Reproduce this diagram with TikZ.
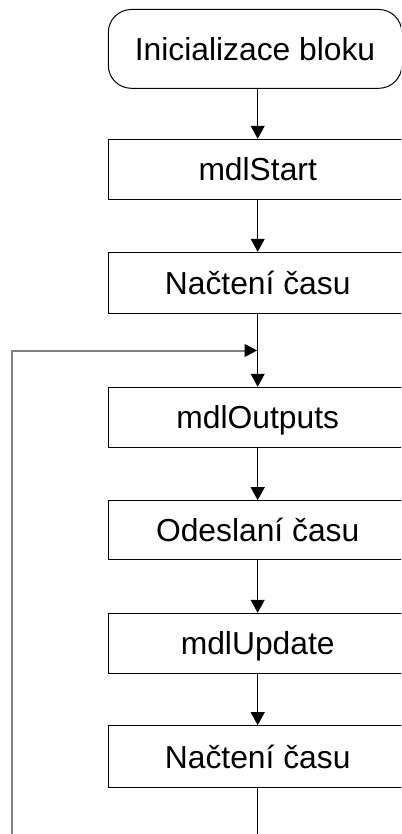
\documentclass[tikz,border=0pt]{standalone}
\usepackage{fontspec}
\setmainfont{Liberation Sans}
\usetikzlibrary{arrows.meta}
\definecolor{loopgray}{HTML}{808080}
\begin{document}
\begin{tikzpicture}[x=1pt,y=-1pt,
  box/.style={draw=black,line width=1pt,rectangle,minimum width=299pt,inner sep=0pt,
    text height=22.6pt,text depth=0pt,font=\fontsize{31.8}{36}\selectfont},
  term/.style={box,rounded corners=23pt,minimum width=293.5pt},
  flow/.style={draw=black,line width=1pt,-{Triangle[length=13pt,width=14pt]}},
  plain/.style={draw=black,line width=1pt},
  loopline/.style={draw=loopgray,line width=2pt,-{Triangle[length=12.5pt,width=12.5pt,color=black]}}]
\useasboundingbox (0,0) rectangle (401,834);
\clip (0,0) rectangle (401,834);
\node[term,minimum height=78.8pt] (init) at (255.05,48.9) {Inicializace bloku};
\node[box,minimum height=60pt] (start) at (257.7,169.3) {mdlStart};
\node[box,minimum height=61.4pt] (read1) at (257.7,283) {Načtení času};
\node[box,minimum height=60pt] (outputs) at (257.7,417.3) {mdlOutputs};
\node[box,minimum height=59.3pt] (send) at (257.7,530.3) {Odeslaní času};
\node[box,minimum height=60pt] (update) at (257.7,643.3) {mdlUpdate};
\node[box,minimum height=62.3pt] (read2) at (257.7,756.8) {Načtení času};
\coordinate (mb) at (257.7,834);
\coordinate (lb) at (11.7,834);
\coordinate (lc) at (11.7,350.5);
\coordinate (j) at (257.2,350.5);
\draw[flow] (start.north |- init.south) -- (start.north);
\draw[flow] (start.south) -- (read1.north);
\draw[flow] (read1.south) -- (outputs.north);
\draw[flow] (outputs.south) -- (send.north);
\draw[flow] (send.south) -- (update.north);
\draw[flow] (update.south) -- (read2.north);
\draw[plain] (read2.south) -- (mb);
\draw[loopline] (lb) -- (lc) -- (j);
\end{tikzpicture}
\end{document}
